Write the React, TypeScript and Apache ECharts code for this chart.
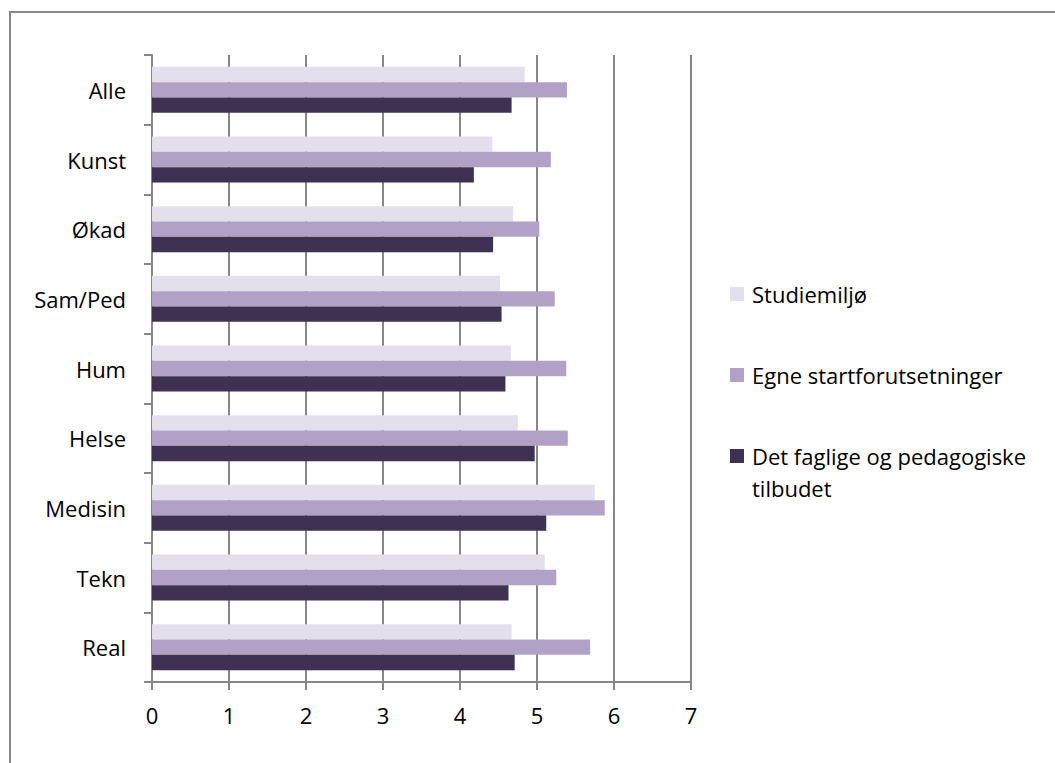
import React, { useEffect, useRef } from "react";
import * as echarts from "echarts";

const categories = ["Alle", "Kunst", "Økad", "Sam/Ped", "Hum", "Helse", "Medisin", "Tekn", "Real"];
const seriesNames = ["Studiemiljø", "Egne startforutsetninger", "Det faglige og pedagogiske tilbudet"];
const studiemiljo = [4.84, 4.42, 4.69, 4.52, 4.66, 4.75, 5.75, 5.1, 4.67];
const egneStart = [5.39, 5.18, 5.03, 5.23, 5.38, 5.4, 5.88, 5.25, 5.69];
const detFaglige = [4.67, 4.18, 4.43, 4.54, 4.59, 4.97, 5.12, 4.63, 4.71];
const xTicks = [0, 1, 2, 3, 4, 5, 6, 7];
const colors = ["#E4DFEC", "#B2A1C7", "#3F3151"];

export default function App() {
  const ref = useRef<HTMLDivElement>(null);
  useEffect(() => {
    if (!ref.current) return;
    const chart = echarts.init(ref.current, undefined, { renderer: "svg" });
    const font = "'Open Sans', sans-serif";
    const gray = "#868686";
    const values = [studiemiljo, egneStart, detFaglige];
    chart.setOption({
      animation: false,
      backgroundColor: "#ffffff",
      textStyle: { fontFamily: font },
      graphic: [
        {
          type: "rect",
          shape: { x: 10, y: 12, width: 1100, height: 800 },
          style: { fill: "none", stroke: gray, lineWidth: 2 },
          silent: true,
        },
      ],
      grid: { left: 152, top: 55, width: 539, height: 627, containLabel: false },
      legend: [
        {
          orient: "vertical",
          left: 730,
          top: 278,
          padding: 0,
          itemWidth: 14,
          itemHeight: 14,
          itemGap: 49,
          icon: "rect",
          data: [seriesNames[0], seriesNames[1]],
          textStyle: { fontFamily: font, fontSize: 22, color: "#000", lineHeight: 32, padding: [0, 0, 0, 3] },
        },
        {
          orient: "vertical",
          left: 730,
          top: 440,
          padding: 0,
          itemWidth: 14,
          itemHeight: 46,
          icon: "path://M0,0L14,0L14,14L0,14Z M0,46L14,46",
          itemStyle: { borderWidth: 0 },
          data: [seriesNames[2]],
          formatter: () => "Det faglige og pedagogiske\ntilbudet",
          textStyle: { fontFamily: font, fontSize: 22, color: "#000", lineHeight: 32, padding: [0, 0, 0, 3] },
        },
      ],
      xAxis: {
        type: "value",
        min: xTicks[0],
        max: xTicks[xTicks.length - 1],
        interval: 1,
        axisLine: { show: true, lineStyle: { color: gray, width: 2 } },
        axisTick: { show: true, length: 8, lineStyle: { color: gray, width: 2 } },
        splitLine: { show: true, lineStyle: { color: gray, width: 2 } },
        axisLabel: { fontFamily: font, fontSize: 22, color: "#000", margin: 22 },
      },
      yAxis: {
        type: "category",
        data: categories,
        inverse: true,
        axisLine: { show: true, lineStyle: { color: gray, width: 2 } },
        axisTick: { show: true, length: 8, lineStyle: { color: gray, width: 2 } },
        axisLabel: { fontFamily: font, fontSize: 22, color: "#000", margin: 26 },
      },
      series: seriesNames.map((name, i) => ({
        name,
        type: "bar",
        data: values[i],
        itemStyle: { color: colors[i] },
        barGap: "0%",
        barCategoryGap: "34%",
      })),
    });
    return () => chart.dispose();
  }, []);
  return (
    <div
      ref={ref}
      style={{ position: "absolute", left: 0, top: 0, width: 1055, height: 763 }}
    />
  );
}
